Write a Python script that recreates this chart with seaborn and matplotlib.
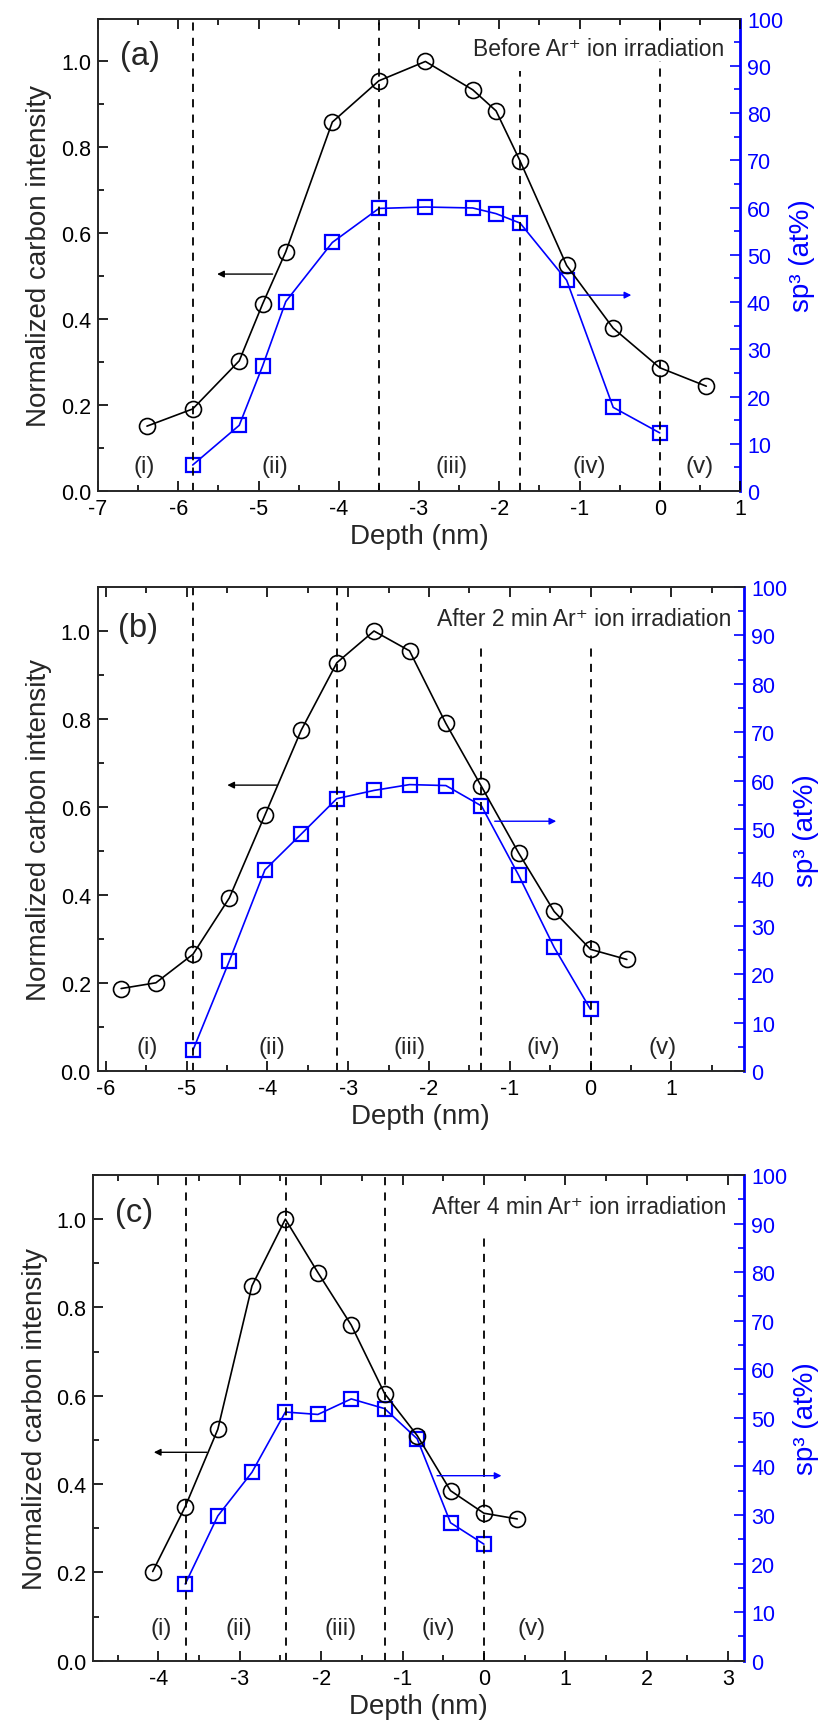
import numpy as np
import pandas as pd
import matplotlib
matplotlib.use("Agg")
import matplotlib.pyplot as plt
from matplotlib.ticker import MultipleLocator
import seaborn as sns

# panel (a): before irradiation
a_depth_c = [-6.39, -5.82, -5.24, -4.95, -4.66, -4.08, -3.50, -2.92, -2.33, -2.04, -1.74, -1.16, -0.58, 0.0, 0.58]
a_int = [0.151, 0.191, 0.303, 0.435, 0.557, 0.859, 0.955, 1.0, 0.934, 0.885, 0.768, 0.525, 0.379, 0.287, 0.244]
a_depth_s = [-5.82, -5.24, -4.95, -4.66, -4.08, -3.50, -2.92, -2.33, -2.04, -1.74, -1.16, -0.58, 0.0]
a_sp3 = [5.5, 13.9, 26.4, 40.1, 52.6, 59.8, 60.1, 59.9, 58.7, 56.7, 44.6, 17.7, 12.3]
a_bounds = [-5.82, -3.50, -1.74, 0.0]

# panel (b): 2 min
b_depth_c = [-5.81, -5.38, -4.92, -4.47, -4.03, -3.58, -3.14, -2.68, -2.24, -1.79, -1.35, -0.89, -0.45, 0.0, 0.45]
b_int = [0.188, 0.201, 0.266, 0.394, 0.582, 0.775, 0.928, 1.0, 0.955, 0.790, 0.647, 0.496, 0.363, 0.277, 0.254]
b_depth_s = [-4.92, -4.47, -4.03, -3.58, -3.14, -2.68, -2.24, -1.79, -1.35, -0.89, -0.45, 0.0]
b_sp3 = [4.4, 22.8, 41.6, 49.0, 56.3, 58.0, 59.2, 59.0, 54.8, 40.5, 25.6, 12.8]
b_bounds = [-4.92, -3.14, -1.35, 0.0]

# panel (c): 4 min
c_depth_c = [-4.07, -3.67, -3.27, -2.85, -2.44, -2.04, -1.63, -1.22, -0.82, -0.41, 0.0, 0.41]
c_int = [0.202, 0.349, 0.524, 0.849, 1.0, 0.879, 0.760, 0.605, 0.510, 0.385, 0.334, 0.321]
c_depth_s = [-3.67, -3.27, -2.85, -2.44, -2.04, -1.63, -1.22, -0.82, -0.41, 0.0]
c_sp3 = [15.8, 29.8, 38.8, 51.2, 50.7, 53.9, 51.9, 45.7, 28.4, 24.0]
c_bounds = [-3.66, -2.43, -1.21, 0.0]

region_labels = ["(i)", "(ii)", "(iii)", "(iv)", "(v)"]

sns.set_style("ticks")
plt.rcParams["font.family"] = ["Liberation Sans", "DejaVu Sans"]
plt.rcParams["axes.linewidth"] = 1.4

panels = [
    dict(tag="(a)", title="Before Ar\u207a ion irradiation",
         dc=a_depth_c, ci=a_int, ds=a_depth_s, sp=a_sp3, bounds=a_bounds,
         line_top=[1.1, 1.1, 0.977, 1.1],
         xlim=(-7, 1), rect=[98, 19.5, 740, 492],
         tag_xy=(-6.48, 1.014), title_xy=(0.80, 1.03),
         reg_x=[-6.43, -4.79, -2.6, -0.88, 0.5], reg_y=0.058,
         karrow=((-4.79, 0.505), (-5.55, 0.505)), barrow=((-1.06, 0.456), (-0.32, 0.456))),
    dict(tag="(b)", title="After 2 min Ar\u207a ion irradiation",
         dc=b_depth_c, ci=b_int, ds=b_depth_s, sp=b_sp3, bounds=b_bounds,
         line_top=[1.1, 1.1, 0.974, 0.97],
         xlim=(-6.1, 1.9), rect=[97.7, 588, 744, 1072.3],
         tag_xy=(-5.6, 1.008), title_xy=(1.74, 1.029),
         reg_x=[-5.49, -3.95, -2.24, -0.59, 0.89], reg_y=0.055,
         karrow=((-3.85, 0.650), (-4.53, 0.650)), barrow=((-1.22, 0.568), (-0.39, 0.568))),
    dict(tag="(c)", title="After 4 min Ar\u207a ion irradiation",
         dc=c_depth_c, ci=c_int, ds=c_depth_s, sp=c_sp3, bounds=c_bounds,
         line_top=[1.1, 1.1, 1.1, 0.97],
         xlim=(-4.8, 3.2), rect=[93.3, 1176, 744.3, 1661.7],
         tag_xy=(-4.3, 1.015), title_xy=(2.98, 1.029),
         reg_x=[-3.97, -3.01, -1.76, -0.56, 0.59], reg_y=0.074,
         karrow=((-3.37, 0.472), (-4.09, 0.472)), barrow=((-0.61, 0.419), (0.25, 0.419))),
]

W, H = 834, 1731
fig = plt.figure(figsize=(W / 100, H / 100), dpi=100)

for p in panels:
    x0, y0, x1, y1 = p["rect"]
    ax = fig.add_axes([x0 / W, 1 - y1 / H, (x1 - x0) / W, (y1 - y0) / H])
    ax2 = ax.twinx()

    ax.set_xlim(*p["xlim"])
    ax.set_ylim(0, 1.1)
    ax2.set_ylim(0, 100)

    # region boundaries
    for b, top in zip(p["bounds"], p["line_top"]):
        ax.plot([b, b], [0, top], color="black", lw=1.3, ls=(0, (4.5, 4)), zorder=1)

    carbon = pd.DataFrame({"depth": p["dc"], "intensity": p["ci"]})
    sp3 = pd.DataFrame({"depth": p["ds"], "sp3": p["sp"]})
    sns.lineplot(data=carbon, x="depth", y="intensity", ax=ax, color="black", lw=1.2,
                 marker="o", markersize=11.5, markerfacecolor="none",
                 markeredgecolor="black", markeredgewidth=1.2, zorder=3)
    sns.lineplot(data=sp3, x="depth", y="sp3", ax=ax2, color="blue", lw=1.2,
                 marker="s", markersize=10, markerfacecolor="none",
                 markeredgecolor="blue", markeredgewidth=1.6, zorder=3)

    ax.xaxis.set_major_locator(MultipleLocator(1))
    ax.xaxis.set_minor_locator(MultipleLocator(0.5))
    ax.yaxis.set_major_locator(MultipleLocator(0.2))
    ax.yaxis.set_minor_locator(MultipleLocator(0.1))
    ax2.yaxis.set_major_locator(MultipleLocator(10))
    ax2.yaxis.set_minor_locator(MultipleLocator(5))
    ax.xaxis.set_major_formatter(lambda v, pos: "0" if abs(v) < 1e-9 else f"{v:.0f}")
    ax.yaxis.set_major_formatter(lambda v, pos: f"{v:.1f}")

    ax.tick_params(which="both", direction="in", top=True, right=False, width=1.2,
                   labelsize=15.5, colors="black", pad=5)
    ax.tick_params(which="major", length=7)
    ax.tick_params(which="minor", length=4)
    ax2.tick_params(which="both", direction="in", colors="blue", width=1.2,
                    labelsize=15.5, pad=5)
    ax2.tick_params(which="major", length=7)
    ax2.tick_params(which="minor", length=4)

    ax.spines["right"].set_visible(False)
    for s in ["left", "top", "bottom"]:
        ax2.spines[s].set_visible(False)
    ax2.spines["right"].set_color("blue")
    ax2.spines["right"].set_linewidth(2.0)

    ax.set_xlabel("Depth (nm)", fontsize=20, labelpad=3)
    ax.set_ylabel("Normalized carbon intensity", fontsize=20, labelpad=6)
    ax2.set_ylabel("sp\u00b3 (at%)", fontsize=20, color="blue", labelpad=4)

    ax.text(*p["tag_xy"], p["tag"], fontsize=23.5, ha="center", va="center")
    ax.text(*p["title_xy"], p["title"], fontsize=16.5, ha="right", va="center", zorder=5,
            bbox=dict(facecolor="white", edgecolor="none", pad=1))
    for lab, rx in zip(region_labels, p["reg_x"]):
        ax.text(rx, p["reg_y"], lab, fontsize=17.5, ha="center", va="center")

    (kx0, ky), (kx1, _) = p["karrow"]
    ax.annotate("", xy=(kx1, ky), xytext=(kx0, ky),
                arrowprops=dict(arrowstyle="-|>", color="black", lw=1.0, mutation_scale=10))
    (bx0, by), (bx1, _) = p["barrow"]
    ax.annotate("", xy=(bx1, by), xytext=(bx0, by),
                arrowprops=dict(arrowstyle="-|>", color="blue", lw=1.0, mutation_scale=10))

    ax.set_zorder(ax2.get_zorder() + 1)
    ax.patch.set_visible(False)

fig.savefig("out.png", dpi=100)
